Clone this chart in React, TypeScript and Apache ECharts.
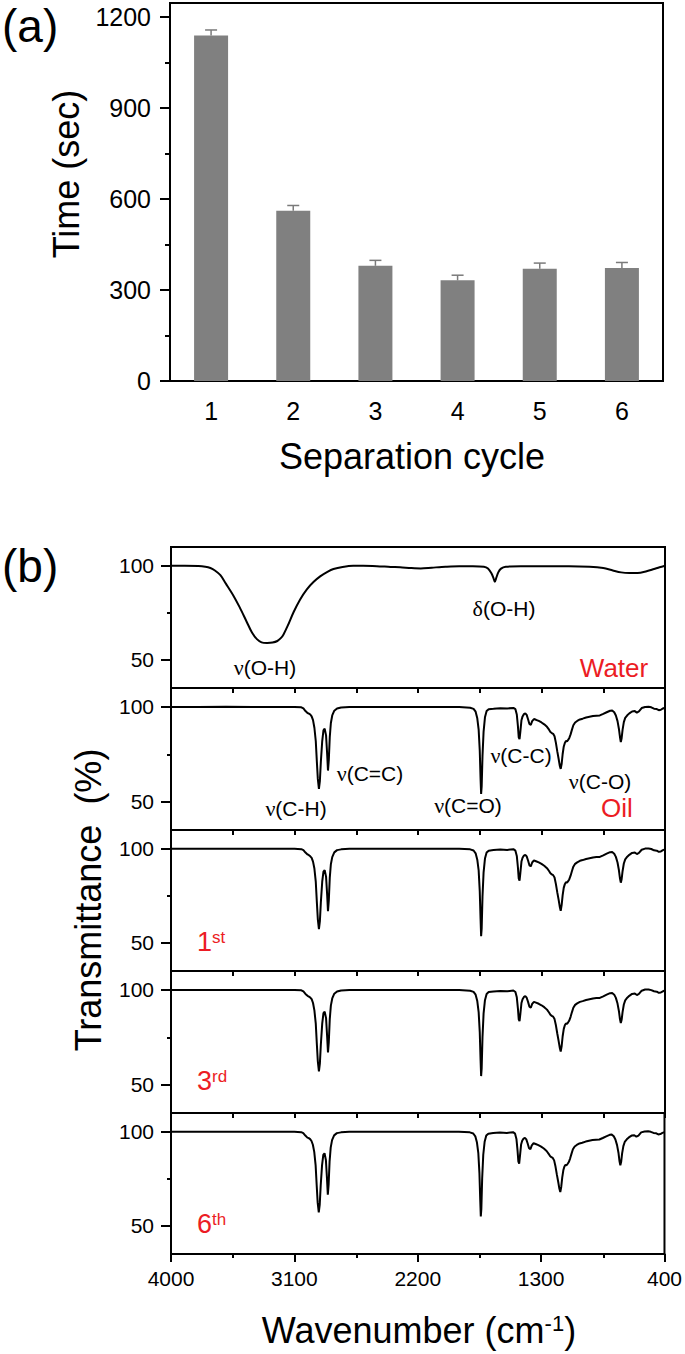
import React, { useEffect, useRef } from "react";
import * as echarts from "echarts";

// ---------------- Panel (a) data ----------------
const cycles = ["1", "2", "3", "4", "5", "6"];
const timeSec = [1140, 562, 380, 332, 370, 373];
const timeErr = [18, 17, 18, 17, 19, 18];
const timeTicks = [0, 300, 600, 900, 1200];
const timeMinorTicks = [150, 450, 750, 1050];

// ---------------- Panel (b) data ----------------
const transLabels = [50, 100];
const transMinorTicks = [75];
const wnMajorTicks = [4000, 3100, 2200, 1300, 400];
const wnMinorTicks = [3550, 2650, 1750, 850];
const wnAllTicks = [4000, 3550, 3100, 2650, 2200, 1750, 1300, 850, 400];

const waterWn = [4000, 3900, 3800, 3750, 3713, 3680, 3640, 3600, 3544, 3500, 3447, 3410, 3374, 3340, 3300, 3260, 3225, 3200, 3180, 3150, 3107, 3060, 3010, 2960, 2913, 2860, 2816, 2750, 2672, 2600, 2500, 2400, 2330, 2250, 2180, 2100, 2000, 1900, 1800, 1720, 1690, 1665, 1650, 1640, 1630, 1615, 1595, 1560, 1450, 1300, 1100, 950, 850, 780, 720, 660, 600, 540, 480, 440, 400];
const waterT = [100, 100, 99.9, 99.5, 98.8, 97.5, 95, 90.5, 84, 78, 70, 64.5, 61, 59.3, 59, 59.2, 60, 61.5, 63.5, 68, 75.3, 82, 87.5, 91.5, 94.4, 96.8, 98.3, 99.4, 100, 100, 99.8, 99.4, 99.2, 98.8, 98.6, 99, 99.5, 99.8, 99.8, 99.5, 98.5, 96, 93.5, 91.5, 93.5, 96.5, 98.5, 99.5, 99.8, 99.8, 99.8, 99.5, 98.8, 97.5, 96.5, 96.2, 96.2, 97, 98.3, 99.2, 100];

const oilWn = [4000, 3800, 3600, 3400, 3200, 3100, 3050, 3035, 3020, 3005, 2995, 2985, 2975, 2965, 2955, 2945, 2937, 2930, 2922, 2915, 2908, 2898, 2889, 2880, 2870, 2862, 2856, 2850, 2843, 2835, 2825, 2810, 2790, 2760, 2700, 2500, 2300, 2100, 1900, 1820, 1795, 1780, 1768, 1758, 1750, 1744, 1740, 1736, 1730, 1722, 1712, 1700, 1685, 1650, 1600, 1550, 1505, 1490, 1480, 1472, 1466, 1460, 1454, 1446, 1438, 1428, 1418, 1408, 1398, 1388, 1378, 1368, 1355, 1340, 1320, 1300, 1280, 1260, 1245, 1235, 1225, 1215, 1205, 1195, 1185, 1175, 1167, 1160, 1153, 1146, 1138, 1130, 1122, 1114, 1106, 1098, 1088, 1078, 1068, 1055, 1040, 1020, 1000, 975, 950, 925, 900, 875, 850, 825, 800, 785, 770, 758, 746, 736, 728, 722, 716, 709, 700, 690, 675, 660, 640, 620, 605, 590, 570, 545, 520, 500, 480, 460, 445, 430, 415, 400];

const oilT = [100, 100, 100.1, 99.9, 100, 100, 99.8, 99.2, 97.8, 96.8, 96.5, 96.0, 95.0, 93.0, 89.0, 82.0, 71.0, 62.0, 56.7, 61.0, 71.0, 82.0, 87.6, 88.5, 85.0, 75.0, 66.4, 72.0, 84.0, 91.5, 95.5, 98.0, 99.2, 99.7, 100, 100, 100, 100, 100, 99.6, 99.0, 97.5, 94.0, 88.0, 77.0, 62.0, 54.0, 58.0, 74.0, 87.0, 94.5, 97.8, 98.8, 99.0, 99.3, 99.2, 99.5, 98.8, 96.0, 90.0, 84.0, 83.0, 87.0, 93.0, 95.0, 96.2, 96.6, 95.8, 93.5, 91.0, 90.5, 92.5, 93.6, 93.2, 92.6, 91.8, 90.8, 89.5, 88.0, 86.8, 86.2, 85.8, 84.5, 81.0, 76.5, 72.5, 69.0, 67.3, 70.0, 75.0, 79.0, 81.0, 82.0, 81.8, 82.6, 83.5, 85.5, 88.0, 90.3, 91.8, 92.6, 93.4, 93.8, 94.4, 94.8, 95.2, 95.4, 95.5, 96.3, 97.2, 98.0, 98.1, 97.2, 95.5, 92.5, 88.5, 84.0, 81.5, 83.5, 88.0, 92.0, 94.2, 95.6, 96.6, 97.6, 97.8, 97.0, 97.6, 99.4, 100, 100.1, 99.8, 99.1, 98.9, 98.3, 98.5, 99.2, 99.6];

const firstT = [100, 100, 100, 100, 100, 100, 99.8, 99.3, 98.0, 97.0, 96.6, 96.0, 95.2, 93.2, 89.5, 82.5, 71.5, 62.5, 57.3, 61.5, 71.5, 82.5, 87.8, 88.6, 85.2, 75.5, 66.8, 72.5, 84.5, 91.8, 95.6, 98.1, 99.3, 99.7, 100, 100, 100, 100, 100, 99.7, 99.1, 97.6, 94.2, 88.5, 77.5, 62.5, 53.5, 57.5, 74.5, 87.5, 94.8, 98.0, 99.0, 99.3, 99.6, 99.4, 99.8, 99.0, 96.2, 90.2, 84.2, 83.0, 87.2, 93.2, 95.2, 96.4, 96.8, 96.0, 93.8, 91.2, 90.7, 92.7, 93.8, 93.4, 92.8, 92.0, 91.0, 89.7, 88.2, 87.0, 86.4, 86.0, 84.7, 81.2, 76.8, 72.8, 69.2, 67.0, 70.2, 75.2, 79.2, 81.2, 82.2, 82.0, 82.8, 83.7, 85.7, 88.2, 90.5, 92.0, 92.8, 93.6, 94.0, 94.6, 95.0, 95.4, 95.6, 95.7, 96.5, 97.4, 98.2, 98.3, 97.4, 95.7, 92.7, 88.7, 84.2, 82.0, 83.8, 88.2, 92.2, 94.4, 95.8, 96.8, 97.8, 98.0, 97.2, 97.8, 99.5, 100.1, 100.2, 99.9, 99.2, 99.0, 98.4, 98.6, 99.3, 99.7];

const thirdT = [100, 100, 100, 99.9, 100, 100, 99.8, 99.2, 97.9, 96.9, 96.5, 96.0, 95.1, 93.1, 89.2, 82.2, 71.2, 62.2, 57.0, 61.2, 71.2, 82.2, 87.7, 88.5, 85.1, 75.2, 67.0, 72.6, 84.6, 91.7, 95.5, 98.0, 99.2, 99.7, 100, 100, 100, 100, 100, 99.6, 99.0, 97.5, 94.1, 88.3, 77.8, 63.0, 54.5, 58.5, 75.0, 87.6, 94.6, 97.9, 98.9, 99.2, 99.5, 99.3, 99.7, 98.9, 96.1, 90.3, 84.5, 83.5, 87.4, 93.1, 95.1, 96.3, 96.7, 95.9, 93.7, 91.1, 90.6, 92.6, 93.7, 93.3, 92.7, 91.9, 90.9, 89.6, 88.1, 86.9, 86.3, 85.9, 84.6, 81.3, 77.0, 73.0, 69.5, 67.5, 70.4, 75.4, 79.3, 81.3, 82.3, 82.1, 82.9, 83.8, 85.8, 88.3, 90.6, 92.1, 92.9, 93.7, 94.1, 94.7, 95.1, 95.5, 95.7, 95.8, 96.6, 97.5, 98.3, 98.4, 97.5, 95.8, 92.8, 88.9, 84.5, 82.5, 84.2, 88.4, 92.3, 94.5, 95.9, 96.9, 97.9, 98.1, 97.3, 97.9, 99.6, 100.2, 100.2, 99.9, 99.3, 99.1, 98.5, 98.7, 99.3, 99.7];

const sixthT = [100, 100, 100, 100, 100, 100, 99.8, 99.3, 98.0, 96.9, 96.6, 96.1, 95.1, 93.1, 89.3, 82.3, 71.3, 62.3, 57.2, 61.3, 71.3, 82.3, 87.7, 88.6, 85.0, 75.0, 66.5, 72.2, 84.3, 91.6, 95.6, 98.1, 99.3, 99.7, 100, 100, 100, 100, 100, 99.7, 99.1, 97.6, 94.3, 88.6, 78.0, 63.5, 55.0, 59.0, 75.2, 87.8, 94.7, 98.0, 99.0, 99.3, 99.6, 99.4, 99.8, 99.0, 96.2, 90.1, 84.3, 83.0, 87.3, 93.2, 95.2, 96.4, 96.8, 96.0, 93.8, 91.3, 90.8, 92.8, 93.9, 93.5, 92.9, 92.1, 91.1, 89.8, 88.3, 87.1, 86.5, 86.1, 84.8, 81.5, 77.2, 73.3, 69.8, 68.0, 70.8, 75.6, 79.5, 81.5, 82.4, 82.2, 83.0, 83.9, 85.9, 88.4, 90.7, 92.2, 93.0, 93.8, 94.2, 94.8, 95.2, 95.6, 95.8, 95.9, 96.7, 97.6, 98.4, 98.5, 97.6, 95.9, 92.9, 89.0, 84.3, 82.2, 84.0, 88.5, 92.4, 94.6, 96.0, 97.0, 98.0, 98.2, 97.4, 98.0, 99.7, 100.2, 100.3, 100.0, 99.4, 99.2, 98.6, 98.8, 99.4, 99.8];

const spectra = [
  { name: "Water", wn: waterWn, t: waterT },
  { name: "Oil", wn: oilWn, t: oilT },
  { name: "1st", wn: oilWn, t: firstT },
  { name: "3rd", wn: oilWn, t: thirdT },
  { name: "6th", wn: oilWn, t: sixthT },
];

const FONT = '"Liberation Sans", Arial, Helvetica, sans-serif';
const SERIF = '"Liberation Serif", "DejaVu Serif", serif';
const RED = "#ec1c24";
const plain = (v: any) => String(v);

function buildOption() {
  const A = { left: 170, top: 3, width: 493, height: 378 };
  const BL = 171, BW = 494;
  const panelTops = [547, 688, 830, 971, 1113];
  const panelHeights = [141, 142, 141, 142, 141];
  const black = "#000";
  const axisLine = { show: true, lineStyle: { color: black, width: 2 } };
  const tickStyle = { color: black, width: 2 };

  const grids: any[] = [
    { ...A, show: true, borderColor: black, borderWidth: 2 },
    { ...A, show: false },
  ];
  const xAxes: any[] = [
    {
      type: "category",
      gridIndex: 0,
      data: cycles,
      boundaryGap: true,
      axisLine,
      axisTick: { alignWithLabel: true, length: 11, lineStyle: tickStyle },
      axisLabel: { fontSize: 25, color: black, fontFamily: FONT, margin: 17 },
      splitLine: { show: false },
    },
    { type: "value", gridIndex: 1, show: false, min: 0, max: 1 },
  ];
  const yAxes: any[] = [
    {
      type: "value",
      gridIndex: 0,
      min: 0,
      max: 1247,
      axisLine,
      axisTick: { show: true, customValues: timeTicks, length: 10, lineStyle: tickStyle },
      axisLabel: { customValues: timeTicks, formatter: plain, fontSize: 25, color: black, fontFamily: FONT, margin: 19 },
      splitLine: { show: false },
    },
    {
      type: "value",
      gridIndex: 1,
      min: 0,
      max: 1247,
      axisLine: { show: false },
      axisTick: { show: true, customValues: timeMinorTicks, length: 5, lineStyle: tickStyle },
      axisLabel: { show: false },
      splitLine: { show: false },
    },
  ];

  for (let i = 0; i < 5; i++) {
    grids.push({ left: BL, top: panelTops[i], width: BW, height: panelHeights[i], show: true, borderColor: black, borderWidth: 2 });
  }
  for (let i = 0; i < 5; i++) {
    grids.push({ left: BL, top: panelTops[i], width: BW, height: panelHeights[i], show: false });
  }
  for (let i = 0; i < 5; i++) {
    const last = i === 4;
    xAxes.push({
      type: "value",
      gridIndex: 2 + i,
      min: 400,
      max: 4000,
      inverse: true,
      axisLine,
      axisTick: {
        show: true,
        customValues: last ? wnMajorTicks : wnAllTicks,
        length: last ? 8 : 5,
        lineStyle: tickStyle,
      },
      axisLabel: last
        ? { show: true, customValues: wnMajorTicks, formatter: plain, fontSize: 21, color: black, fontFamily: FONT, margin: 14 }
        : { show: false },
      splitLine: { show: false },
    });
    yAxes.push({
      type: "value",
      gridIndex: 2 + i,
      min: 35,
      max: 110,
      axisLine,
      axisTick: { show: true, customValues: transLabels, length: 10, lineStyle: tickStyle },
      axisLabel: { customValues: transLabels, formatter: plain, fontSize: 21, color: black, fontFamily: FONT, margin: 17 },
      splitLine: { show: false },
    });
  }
  for (let i = 0; i < 5; i++) {
    const last = i === 4;
    xAxes.push(
      last
        ? {
            type: "value",
            gridIndex: 7 + i,
            min: 400,
            max: 4000,
            inverse: true,
            axisLine: { show: false },
            axisTick: { show: true, customValues: wnMinorTicks, length: 4, lineStyle: tickStyle },
            axisLabel: { show: false },
            splitLine: { show: false },
          }
        : { type: "value", gridIndex: 7 + i, show: false, min: 0, max: 1 }
    );
    yAxes.push({
      type: "value",
      gridIndex: 7 + i,
      min: 35,
      max: 110,
      axisLine: { show: false },
      axisTick: { show: true, customValues: transMinorTicks, length: 4, lineStyle: tickStyle },
      axisLabel: { show: false },
      splitLine: { show: false },
    });
  }

  const series: any[] = [
    {
      type: "bar",
      xAxisIndex: 0,
      yAxisIndex: 0,
      data: timeSec,
      barWidth: 34,
      itemStyle: { color: "#808080" },
      z: 2,
    },
    {
      type: "custom",
      xAxisIndex: 0,
      yAxisIndex: 0,
      z: 3,
      data: timeSec.map((v, i) => [i, v, timeErr[i]]),
      encode: { x: 0, y: 1 },
      renderItem: (params: any, api: any) => {
        const idx = api.value(0);
        const v = api.value(1);
        const e = api.value(2);
        const p0 = api.coord([idx, v]);
        const p1 = api.coord([idx, v + e]);
        const st = { stroke: "#7a7a7a", lineWidth: 1.5 };
        return {
          type: "group",
          children: [
            { type: "line", shape: { x1: p0[0], y1: p0[1], x2: p1[0], y2: p1[1] }, style: st },
            { type: "line", shape: { x1: p1[0] - 6, y1: p1[1], x2: p1[0] + 6, y2: p1[1] }, style: st },
          ],
        };
      },
    },
  ];
  spectra.forEach((s, i) => {
    const pts: number[][] = [];
    for (let k = 0; k < s.wn.length; k++) {
      if (typeof s.t[k] === "number") pts.push([s.wn[k], s.t[k]]);
    }
    series.push({
      type: "line",
      name: s.name,
      xAxisIndex: 2 + i,
      yAxisIndex: 2 + i,
      data: pts,
      showSymbol: false,
      symbol: "none",
      smooth: i === 0 ? 0.3 : false,
      lineStyle: { color: "#000", width: 2 },
      z: 3,
    });
  });

  const txt = (text: string, x: number, y: number, size: number, extra: any = {}) => ({
    type: "text",
    x,
    y,
    z: 10,
    ...extra,
    style: {
      text,
      fontSize: size,
      fontFamily: FONT,
      fill: "#000",
      align: "center",
      verticalAlign: "middle",
      ...(extra.style || {}),
    },
  });
  const nuText = (greek: string, rest: string, x: number, y: number) => ({
    type: "text",
    x,
    y,
    z: 10,
    style: {
      text: `{g|${greek}}{n|${rest}}`,
      align: "center",
      verticalAlign: "middle",
      fill: "#000",
      rich: {
        g: { fontSize: 22, fontFamily: SERIF, fill: "#000" },
        n: { fontSize: 21, fontFamily: FONT, fill: "#000" },
      },
    },
  });
  const ordinal = (num: string, suf: string, x: number, y: number) => ({
    type: "text",
    x,
    y,
    z: 10,
    style: {
      text: `{n|${num}}{s|${suf}}`,
      align: "left",
      verticalAlign: "middle",
      fill: RED,
      rich: {
        n: { fontSize: 27, fontFamily: FONT, fill: RED },
        s: { fontSize: 17, fontFamily: FONT, fill: RED, verticalAlign: "top" },
      },
    },
  });

  const graphic: any[] = [
    txt("(a)", 2, 26, 46, { style: { align: "left" } }),
    txt("(b)", 2, 566, 46, { style: { align: "left" } }),
    txt("Time (sec)", 66, 174, 36, { rotation: Math.PI / 2 }),
    txt("Separation cycle", 412, 456, 36),
    txt("Transmittance  (%)", 88, 900, 36, { rotation: Math.PI / 2 }),
    {
      type: "text",
      x: 419,
      y: 1330,
      z: 10,
      style: {
        text: "{n|Wavenumber (cm}{s|-1}{n|)}",
        align: "center",
        verticalAlign: "middle",
        fill: "#000",
        rich: {
          n: { fontSize: 36, fontFamily: FONT, fill: "#000" },
          s: { fontSize: 22, fontFamily: FONT, fill: "#000", verticalAlign: "top" },
        },
      },
    },
    nuText("ν", "(O-H)", 265, 667),
    nuText("δ", "(O-H)", 504, 608),
    nuText("ν", "(C-H)", 296, 808),
    nuText("ν", "(C=C)", 370, 773),
    nuText("ν", "(C=O)", 468, 805),
    nuText("ν", "(C-C)", 521, 755),
    nuText("ν", "(C-O)", 600, 781),
    txt("Water", 614, 668, 26, { style: { fill: RED } }),
    txt("Oil", 617, 808, 26, { style: { fill: RED } }),
    ordinal("1", "st", 197, 942),
    ordinal("3", "rd", 197, 1081),
    ordinal("6", "th", 197, 1224),
  ];

  return {
    animation: false,
    backgroundColor: "#fff",
    textStyle: { fontFamily: FONT },
    grid: grids,
    xAxis: xAxes,
    yAxis: yAxes,
    series,
    graphic,
  };
}

export default function App() {
  const ref = useRef<HTMLDivElement>(null);
  useEffect(() => {
    if (!ref.current) return;
    const chart = echarts.init(ref.current, undefined, { renderer: "svg" });
    chart.setOption(buildOption() as any);
    return () => chart.dispose();
  }, []);
  return (
    <div
      ref={ref}
      style={{ position: "absolute", left: 0, top: 0, width: 685, height: 1354, background: "#fff" }}
    />
  );
}
